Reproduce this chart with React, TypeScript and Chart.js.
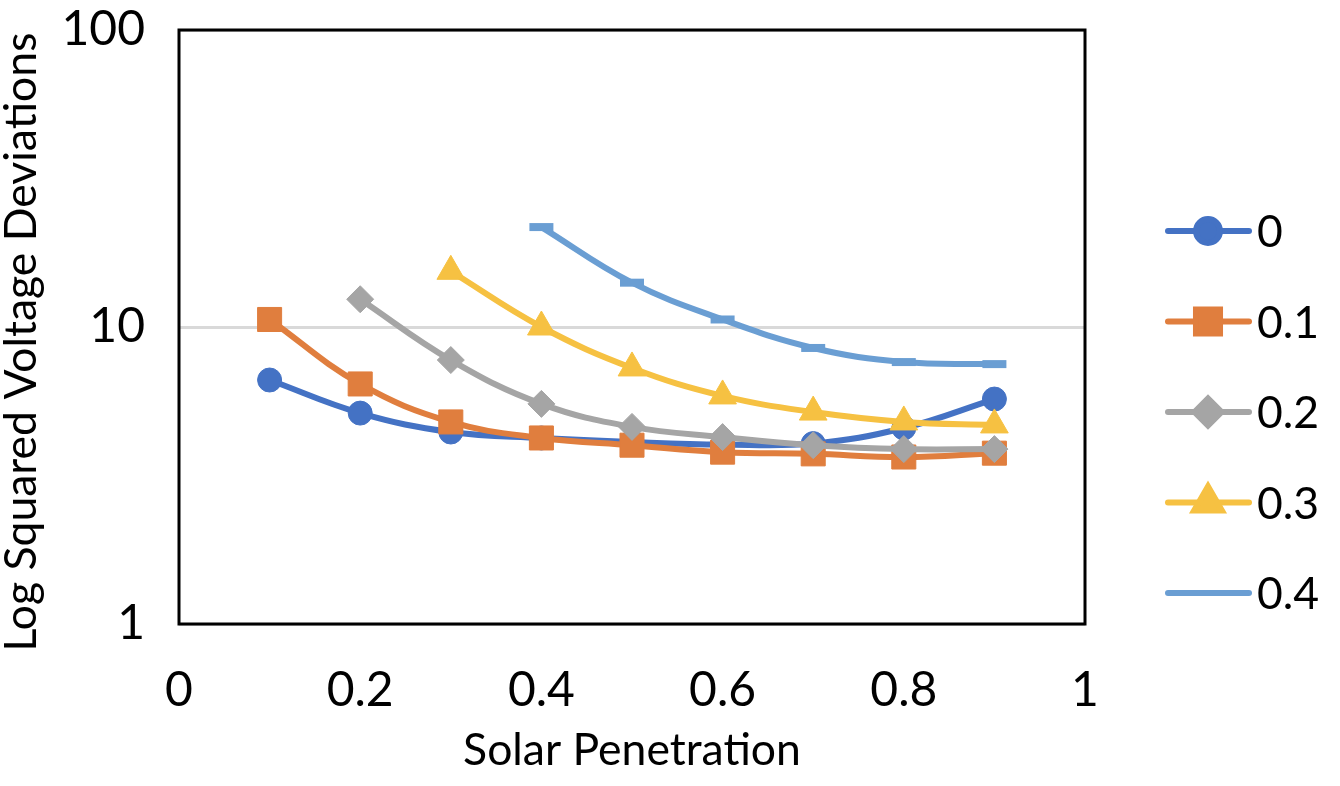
import React, { useEffect, useRef } from 'react';
import { Chart, registerables } from 'chart.js';
import { drawPoint } from 'chart.js/helpers';

Chart.register(...registerables);

const xValues = [0.1, 0.2, 0.3, 0.4, 0.5, 0.6, 0.7, 0.8, 0.9];
const seriesLabels = ['0', '0.1', '0.2', '0.3', '0.4'];
const s0 = [6.63, 5.13, 4.43, 4.23, 4.1, 4.02, 4.05, 4.57, 5.72];
const s1 = [10.6, 6.43, 4.79, 4.23, 4.0, 3.79, 3.74, 3.65, 3.76];
const s2 = [null, 12.4, 7.74, 5.51, 4.61, 4.26, 4.0, 3.88, 3.88];
const s3 = [null, null, 15.4, 10.0, 7.28, 5.86, 5.17, 4.79, 4.68];
const s4 = [null, null, null, 21.7, 14.1, 10.6, 8.5, 7.62, 7.5];
const seriesValues = [s0, s1, s2, s3, s4];
const xTickValues = [0, 0.2, 0.4, 0.6, 0.8, 1];
const yTickValues = [1, 10, 100];
const xTitle = 'Solar Penetration';
const yTitle = 'Log Squared Voltage Deviations';

const colors = ['#4472C4', '#E07E3E', '#A5A5A5', '#F6C142', '#6A9ED3'];
const pointStyles = ['circle', 'rect', 'rectRot', 'triangle', 'line'];
const pointRadii = [12, 17, 13.5, 16, 12];
const pointBorders = [1, 1, 1, 1, 8];

const FONT = 'Lato, "Open Sans", sans-serif';

const framePlugin = {
  id: 'frame',
  beforeDatasetsDraw(chart: any) {
    const { ctx, chartArea } = chart;
    ctx.save();
    ctx.strokeStyle = '#000';
    ctx.lineWidth = 3;
    ctx.strokeRect(chartArea.left, chartArea.top, chartArea.right - chartArea.left, chartArea.bottom - chartArea.top);
    ctx.restore();
  },
  afterDraw(chart: any) {
    const { ctx, chartArea } = chart;
    ctx.save();
    ctx.fillStyle = '#000';
    ctx.font = `44.5px ${FONT}`;
    ctx.textAlign = 'center';
    ctx.textBaseline = 'alphabetic';
    ctx.fillText(xTitle, (chartArea.left + chartArea.right) / 2, 765);
    ctx.save();
    ctx.translate(36, 342);
    ctx.rotate(-Math.PI / 2);
    ctx.fillText(yTitle, 0, 0);
    ctx.restore();
    const lx0 = chartArea.right + 83;
    const lx1 = chartArea.right + 164;
    const mx = chartArea.right + 123;
    chart.data.datasets.forEach((ds: any, i: number) => {
      const y = 231 + i * 90.5;
      ctx.strokeStyle = ds.borderColor;
      ctx.fillStyle = ds.borderColor;
      ctx.lineWidth = 6;
      ctx.lineCap = 'round';
      ctx.beginPath();
      ctx.moveTo(lx0, y);
      ctx.lineTo(lx1, y);
      ctx.stroke();
      ctx.lineCap = 'butt';
      drawPoint(ctx, { pointStyle: ds.pointStyle, radius: ds.pointRadius, borderWidth: ds.pointBorderWidth, rotation: 0 }, mx, y);
      ctx.fillStyle = '#000';
      ctx.font = `44.5px ${FONT}`;
      ctx.textAlign = 'left';
      ctx.textBaseline = 'middle';
      ctx.fillText(ds.label, lx1 + 8, y + 2);
    });
    ctx.restore();
  },
};

export default function App() {
  const ref = useRef<HTMLCanvasElement | null>(null);
  useEffect(() => {
    if (!ref.current) return;
    const datasets = seriesValues.map((vals, i) => ({
      label: seriesLabels[i],
      data: xValues
        .map((x, j) => ({ x, y: vals[j] }))
        .filter((p) => p.y !== null),
      borderColor: colors[i],
      backgroundColor: colors[i],
      pointBackgroundColor: colors[i],
      pointBorderColor: colors[i],
      borderWidth: 6,
      borderCapStyle: 'round',
      borderJoinStyle: 'round',
      tension: 0.4,
      pointStyle: pointStyles[i],
      pointRadius: pointRadii[i],
      pointHoverRadius: pointRadii[i],
      pointBorderWidth: pointBorders[i],
      order: 5 - i,
      fill: false,
    }));
    const chart = new Chart(ref.current, {
      type: 'line',
      data: { datasets: datasets as any },
      options: {
        animation: false,
        responsive: false,
        devicePixelRatio: 1,
        layout: { autoPadding: false, padding: { top: 30, right: 255, left: 0, bottom: 0 } },
        plugins: { legend: { display: false }, tooltip: { enabled: false } },
        scales: {
          x: {
            type: 'linear',
            min: 0,
            max: 1,
            afterBuildTicks: (scale: any) => {
              scale.ticks = xTickValues.map((v) => ({ value: v }));
            },
            afterFit: (scale: any) => {
              scale.height = 162;
              scale.paddingLeft = 0;
              scale.paddingRight = 0;
              scale.paddingTop = 0;
              scale.paddingBottom = 0;
            },
            grid: { display: false, drawTicks: false },
            border: { display: false },
            ticks: {
              padding: 38,
              color: '#000',
              font: { family: FONT, size: 48 },
              maxRotation: 0,
              callback: (v: any) => String(v),
            },
          },
          y: {
            type: 'logarithmic',
            min: 1,
            max: 100,
            afterBuildTicks: (scale: any) => {
              scale.ticks = yTickValues.map((v) => ({ value: v }));
            },
            afterFit: (scale: any) => {
              scale.width = 179;
              scale.paddingLeft = 0;
              scale.paddingRight = 0;
              scale.paddingTop = 0;
              scale.paddingBottom = 0;
            },
            grid: { color: '#D9D9D9', lineWidth: 3, drawTicks: false },
            border: { display: false },
            ticks: {
              padding: 34,
              color: '#000',
              font: { family: FONT, size: 48 },
              callback: (v: any) => String(v),
            },
          },
        },
      },
      plugins: [framePlugin],
    });
    return () => chart.destroy();
  }, []);
  return (
    <div style={{ position: 'absolute', left: 0, top: 0, width: 1340, height: 786, background: '#fff' }}>
      <canvas ref={ref} width={1340} height={786} style={{ width: 1340, height: 786, display: 'block' }} />
    </div>
  );
}
